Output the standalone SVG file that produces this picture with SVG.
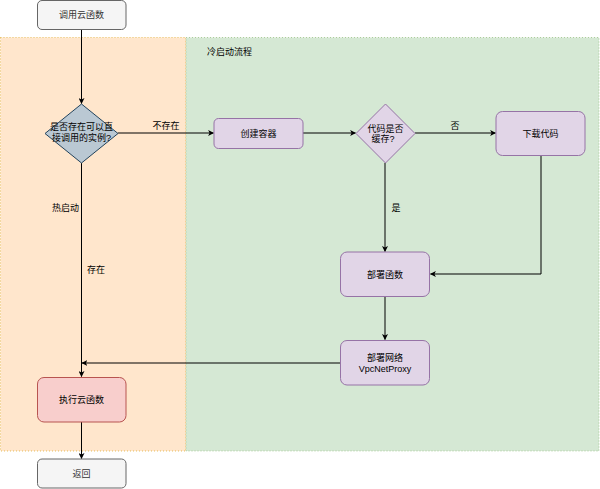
<svg xmlns="http://www.w3.org/2000/svg" width="600" height="489" viewBox="0 0 600 489">
<defs>
<style>
text{font-family:"Liberation Sans","Noto Sans CJK SC",sans-serif;font-size:9px;fill:#000;}
.c{text-anchor:middle;}
.line{fill:none;stroke:#000;stroke-width:1;}
.purple{fill:#e1d5e7;stroke:#9673a6;stroke-width:1;}
.grey{fill:#f5f5f5;stroke:#666666;stroke-width:1;}
</style>
<marker id="arr" viewBox="0 0 10 10" refX="9" refY="5" markerWidth="6" markerHeight="6" markerUnits="userSpaceOnUse" orient="auto">
<path d="M0,0 L10,5 L0,10 L2.5,5 Z" fill="#000"/>
</marker>
</defs>
<g id="hot-zone">
<rect x="0.5" y="37.5" width="185.5" height="413.5" fill="#ffe6cc" stroke="#d79b00" stroke-dasharray="1,2" stroke-width="0.6"/>
<text x="52" y="211">热启动</text>
</g>
<g id="cold-zone">
<rect x="186" y="37.5" width="413" height="413.5" fill="#d5e8d4" stroke="#82b366" stroke-dasharray="1,2" stroke-width="0.6"/>
<text x="207" y="55">冷启动流程</text>
</g>
<g id="connectors">
<path class="line" d="M81.5,29.5 V103.5" marker-end="url(#arr)"/>
<path class="line" d="M118,133 H213.5" marker-end="url(#arr)"/>
<text class="c" x="166" y="129">不存在</text>
<path class="line" d="M303,133 H355.5" marker-end="url(#arr)"/>
<path class="line" d="M415,133 H495.5" marker-end="url(#arr)"/>
<text class="c" x="455" y="129">否</text>
<path class="line" d="M541,155 V274 H430.5" marker-end="url(#arr)"/>
<path class="line" d="M385,163 V251.5" marker-end="url(#arr)"/>
<text class="c" x="396" y="211">是</text>
<path class="line" d="M385,297 V339.5" marker-end="url(#arr)"/>
<path class="line" d="M340,363 H82" marker-end="url(#arr)"/>
<path class="line" d="M81.5,163 V376.5" marker-end="url(#arr)"/>
<text class="c" x="96" y="273">存在</text>
<path class="line" d="M81.5,422 V458.5" marker-end="url(#arr)"/>
</g>
<g id="invoke">
<rect class="grey" x="37.5" y="0.5" width="88.5" height="29" rx="4.5"/>
<text class="c" x="81.5" y="18" style="fill:#333">调用云函数</text>
</g>
<g id="check-instance">
<path d="M81.5,104 L118,133.5 L81.5,163 L45,133.5 Z" fill="#bac8d3" stroke="#23445d" stroke-width="1"/>
<text class="c" x="81.5" y="130">是否存在可以直</text>
<text class="c" x="81.5" y="141">接调用的实例?</text>
</g>
<g id="create-container">
<rect class="purple" x="214" y="118.5" width="89" height="30" rx="4.5"/>
<text class="c" x="258.5" y="136.5">创建容器</text>
</g>
<g id="check-cache">
<path class="purple" d="M385.5,104 L415,133.5 L385.5,163 L356,133.5 Z"/>
<text class="c" x="385.5" y="131.5">代码是否</text>
<text class="c" x="383" y="141.5">缓存?</text>
</g>
<g id="download">
<rect class="purple" x="496" y="111.5" width="89" height="44" rx="6.5"/>
<text class="c" x="540.5" y="136.5">下载代码</text>
</g>
<g id="deploy-func">
<rect class="purple" x="340.5" y="252" width="89" height="44.5" rx="6.5"/>
<text class="c" x="385" y="277.5">部署函数</text>
</g>
<g id="deploy-net">
<rect class="purple" x="340.5" y="340.5" width="89" height="44.5" rx="6.5"/>
<text class="c" x="385" y="361">部署网络</text>
<text class="c" x="385" y="371.5">VpcNetProxy</text>
</g>
<g id="execute">
<rect x="37.5" y="377.5" width="88.5" height="44.5" rx="6.5" fill="#f8cecc" stroke="#b85450" stroke-width="1"/>
<text class="c" x="81.5" y="403">执行云函数</text>
</g>
<g id="return">
<rect class="grey" x="37.5" y="459" width="88.5" height="29" rx="4.5"/>
<text class="c" x="81.5" y="477" style="fill:#333">返回</text>
</g>
</svg>
